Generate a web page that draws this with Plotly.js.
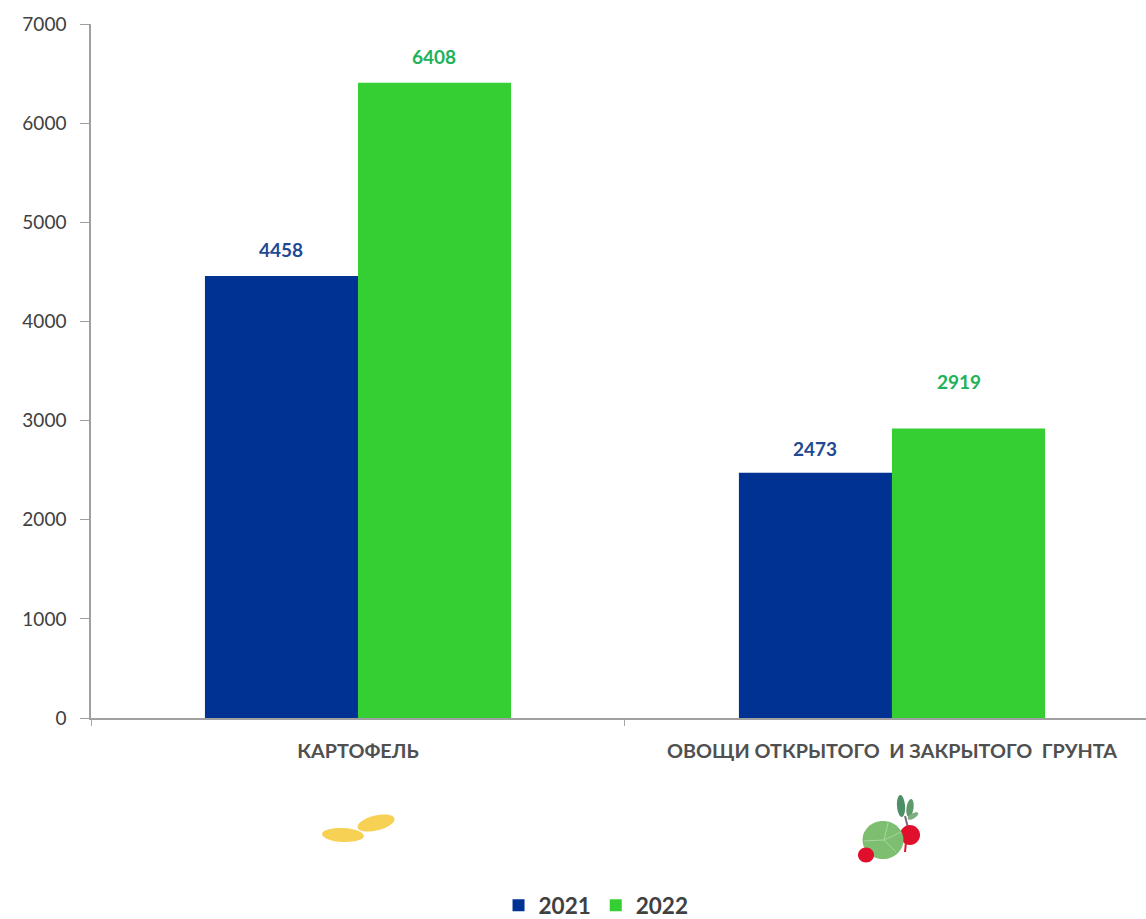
<!DOCTYPE html>
<html><head><meta charset="utf-8">
<script src="https://cdn.plot.ly/plotly-3.0.1.min.js"></script>
<style>html,body{margin:0;padding:0;background:#fff;overflow:hidden}#c{width:1146px;height:919px}</style>
</head><body><div id="c"></div>
<script>
const categories = ['КАРТОФЕЛЬ', 'ОВОЩИ ОТКРЫТОГО  И ЗАКРЫТОГО  ГРУНТА'];
const values2021 = [4458, 2473];
const values2022 = [6408, 2919];
const blue = '#003294', green = '#36CF33';
const labelBlue = '#1F4A94', labelGreen = '#20B25A';
const fontFam = 'Lato, Carlito, "Open Sans", sans-serif';
const W = 1146, H = 919, L = 91, T = 24, B = 201, R = 0;
const pw = W - L - R, ph = H - T - B;
const px = x => ((x - L) / pw).toFixed(4);
const py = y => (1 - (y - T) / ph).toFixed(4);
function ell(cx, cy, rx, ry, deg) {
  const a = deg * Math.PI / 180, c = Math.cos(a), s = Math.sin(a);
  const pt = (u, v) => px(cx + u * c - v * s) + ' ' + py(cy + u * s + v * c);
  const k = 0.5523;
  return 'M' + pt(rx, 0) +
    'C' + pt(rx, k * ry) + ' ' + pt(k * rx, ry) + ' ' + pt(0, ry) +
    'C' + pt(-k * rx, ry) + ' ' + pt(-rx, k * ry) + ' ' + pt(-rx, 0) +
    'C' + pt(-rx, -k * ry) + ' ' + pt(-k * rx, -ry) + ' ' + pt(0, -ry) +
    'C' + pt(k * rx, -ry) + ' ' + pt(rx, -k * ry) + ' ' + pt(rx, 0) + 'Z';
}
function line(pts) { return pts.map((p, i) => (i ? 'L' : 'M') + px(p[0]) + ' ' + py(p[1])).join(''); }
const deco = (path, fill, stroke, w) => ({type: 'path', xref: 'paper', yref: 'paper', path,
  fillcolor: fill || 'rgba(0,0,0,0)', line: {color: stroke || 'rgba(0,0,0,0)', width: w || 0}, layer: 'above'});
const iconShapes = [
  deco(ell(343, 835, 21, 7, 3), '#F7D153'),
  deco(ell(376, 823, 19, 7.5, -14), '#F7D153'),
  deco(line([[905, 816], [908, 828]]), null, '#7A6A80', 2),
  deco(ell(901, 806, 4, 11, -4), '#4F8F68'),
  deco(ell(910, 808, 3.5, 9, 8), '#5E9A6A'),
  deco(ell(913, 816, 6, 2.5, -30), '#7FAF80'),
  deco(ell(910, 835, 10, 10, 0), '#E0102C'),
  deco(line([[906, 842], [905, 852]]), null, '#E0102C', 2),
  deco(ell(883, 840, 20.5, 19, 0), '#7DBE70'),
  deco(line([[864, 841], [884, 840], [901, 832]]), null, '#A9D69B', 1),
  deco(line([[884, 840], [896, 852]]), null, '#A9D69B', 1),
  deco(line([[884, 840], [888, 823]]), null, '#A9D69B', 1),
  deco(ell(866, 855, 8, 7.5, 0), '#E0102C')
];
const mk = (name, y, color) => ({type: 'bar', name, x: categories, y,
  marker: {color, line: {width: 0}}, hoverinfo: 'skip'});
const labelY = [[27, 24], [26, 47]];
const labelDX = [[0, 0], [-1, -10]];
const annotations = [];
[[values2021, -0.1433, labelBlue, 0], [values2022, 0.1433, labelGreen, 1]].forEach(([vals, off, col, s]) => {
  vals.forEach((v, i) => annotations.push({
    xref: 'x', yref: 'y', x: i + off, y: v, text: String(v), showarrow: false,
    xanchor: 'center', yanchor: 'middle', xshift: labelDX[s][i], yshift: labelY[s][i],
    font: {family: fontFam, size: 19, color: col, weight: 700}
  }));
});
Plotly.newPlot('c', [mk('2021', values2021, blue), mk('2022', values2022, green)], {
  width: W, height: H, paper_bgcolor: '#fff', plot_bgcolor: '#fff', showlegend: true,
  margin: {l: L, r: R, t: T, b: B, pad: 0},
  barmode: 'group', bargap: 0.4267, bargroupgap: 0,
  font: {family: fontFam, color: '#404040'},
  xaxis: {type: 'category', range: [-0.5, 1.4757], tickson: 'boundaries', ticks: 'outside', ticklen: 6,
    tickcolor: '#A6A6A6', tickwidth: 1, showline: true, linecolor: '#A0A0A0', linewidth: 1.5,
    showgrid: false, zeroline: false, ticklabelstandoff: 14,
    tickfont: {family: fontFam, size: 19.8, color: '#505050', weight: 700}},
  yaxis: {range: [0, 7000], dtick: 1000, ticks: 'outside', ticklen: 9, tickcolor: '#A0A0A0', tickwidth: 1,
    showline: true, linecolor: '#A0A0A0', linewidth: 1.5, showgrid: false, zeroline: false,
    ticklabelstandoff: 10,
    tickfont: {family: fontFam, size: 19, color: '#404040'}},
  legend: {orientation: 'h', xref: 'container', yref: 'container', x: 0.5201, xanchor: 'center', y: 0.0145, yanchor: 'middle',
    font: {family: fontFam, size: 22.5, color: '#404040', weight: 700}, itemclick: false, itemdoubleclick: false, bgcolor: 'rgba(0,0,0,0)'},
  annotations, shapes: iconShapes
}, {displayModeBar: false, responsive: false});
</script></body></html>
